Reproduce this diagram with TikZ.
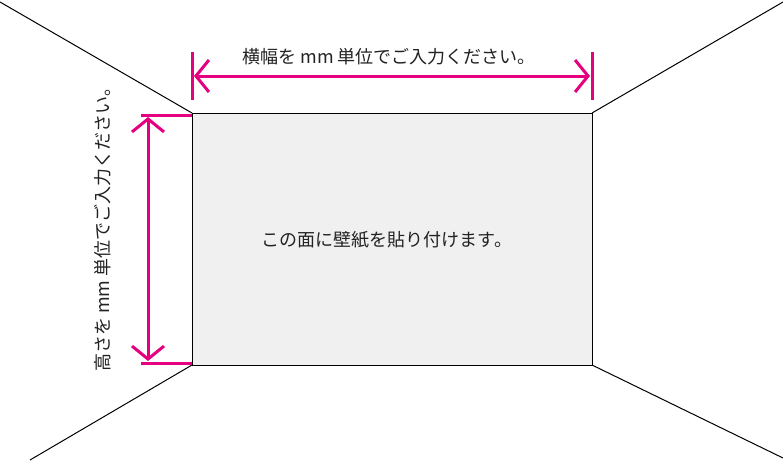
\documentclass[tikz,border=0pt]{standalone}
\usepackage{fontspec}
\newfontfamily\jp{Noto Sans CJK JP}
\usetikzlibrary{arrows.meta}
\definecolor{mag}{HTML}{E4007F}
\definecolor{wall}{HTML}{F0F0F0}
\definecolor{txt}{HTML}{222222}
\begin{document}
\begin{tikzpicture}[x=1pt,y=-1pt,
  edge/.style={black, line width=1pt},
  extline/.style={mag, line width=3pt},
  dimarrow/.style={mag, line width=3pt, {Straight Barb[length=13pt,width=32pt]}-{Straight Barb[length=13pt,width=32pt]}},
  lbl/.style={font=\jp\fontsize{18}{22}\selectfont, text=txt, inner sep=0pt}]
\useasboundingbox (0,0) rectangle (783,460);
% wall corners
\coordinate (TL) at (192,113);
\coordinate (TR) at (592,113);
\coordinate (BL) at (192,365);
\coordinate (BR) at (592,365);
% outer ends
\coordinate (oTL) at (0,2);
\coordinate (oTR) at (783,2);
\coordinate (oBL) at (30,460);
\coordinate (oBR) at (783,458);
\draw[edge, fill=wall] (TL) rectangle (BR);
\draw[edge] (TL) -- (oTL);
\draw[edge] (TR) -- (oTR);
\draw[edge] (BL) -- (oBL);
\draw[edge] (BR) -- (oBR);
% extension lines
\coordinate (e1a) at (192,52); \coordinate (e1b) at (192,100);
\coordinate (e2a) at (592,52); \coordinate (e2b) at (592,100);
\coordinate (e3a) at (141,115); \coordinate (e3b) at (192,115);
\coordinate (e4a) at (141,363); \coordinate (e4b) at (192,363);
\draw[extline] (e1a) -- (e1b);
\draw[extline] (e2a) -- (e2b);
\draw[extline] (e3a) -- (e3b);
\draw[extline] (e4a) -- (e4b);
% dimension arrows
\coordinate (hl) at (194,76); \coordinate (hr) at (590,76);
\coordinate (vt) at (148,117); \coordinate (vb) at (148,361);
\draw[dimarrow] (hl) -- (hr);
\draw[dimarrow] (vt) -- (vb);
% labels
\node[lbl] (wlabel) at (389,57) {横幅を mm 単位でご入力ください。};
\node[lbl, rotate=90] (hlabel) at (103,225) {高さを mm 単位でご入力ください。};
\node[lbl] (clabel) at (387,240) {この面に壁紙を貼り付けます。};
\end{tikzpicture}
\end{document}
